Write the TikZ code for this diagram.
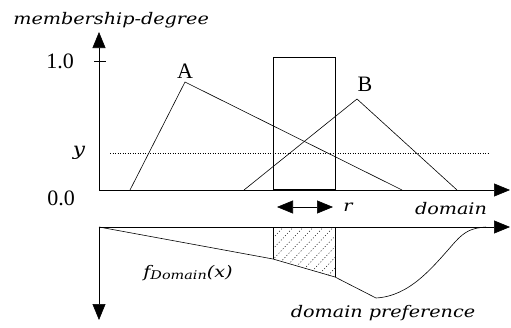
\documentclass[tikz,border=0pt]{standalone}
\usepackage{fontspec}
\setmainfont{DejaVu Serif}[FakeStretch=1.2]
\newfontfamily\uprfont{Liberation Serif}
\usetikzlibrary{arrows.meta,positioning}

\begin{document}
\begin{tikzpicture}[x=1pt, y=-1pt, line width=0.6pt,
  axis/.style={-{Triangle[length=16pt,width=13pt]}},
  lbl/.style={font=\uprfont\fontsize{22}{24}\selectfont},
  ilbl/.style={font=\fontsize{16}{19}\selectfont\itshape}]
  \useasboundingbox (0,0) rectangle (511,327);
  % axes
  \coordinate (O) at (99,190);
  \coordinate (Otop) at (99,32);
  \coordinate (Xend) at (510,190);
  \coordinate (P) at (99,227);
  \coordinate (Pend) at (510,227);
  \coordinate (Pbot) at (99,320);
  \draw[axis] (O) -- (Otop);
  \draw[axis] (O) -- (Xend);
  \draw[axis] (P) -- (Pend);
  \draw[axis] (P) -- (Pbot);
  \draw (94,61) -- (106,61);
  % level y
  \draw[line width=0.5pt, dash pattern=on 1pt off 1.5pt] (110,153) -- (490,153);
  % fuzzy sets
  \coordinate (A) at (185,82);
  \coordinate (B) at (357,99);
  \draw (130,190) -- (A) -- (402,190);
  \draw (244,190) -- (B) -- (457,190);
  % window
  \draw (273,190) rectangle (335,57);
  \draw[line width=1.2pt] (273,190) -- (335,190);
  \coordinate (rl) at (277,207);
  \coordinate (rr) at (333,207);
  \draw[{Triangle[length=16pt,width=13pt]}-{Triangle[length=16pt,width=13pt]}] (rl) -- (rr);
  % preference
  \begin{scope}
    \clip (273,227) -- (335,227) -- (335,277) -- (273,259) -- cycle;
    \foreach \i in {0,...,12}
      \draw[line width=0.5pt, dash pattern=on 1pt off 2pt] (212+10*\i,282) -- ++(58,-62);
  \end{scope}
  \draw[line width=0.5pt] (273,227) -- (273,259);
  \draw (335,227) -- (335,277);
  \draw (P) -- (273,259) -- (335,277) -- (376,298)
    .. controls (410,296) and (432,268) .. (455,242)
    .. controls (465,231) and (472,228) .. (486,227);
  % labels
  \node[ilbl, anchor=base west, inner sep=0pt] (mdeg) at (13,24) {membership-degree};
  \node[lbl] (one) at (60,61) {1.0};
  \node[lbl] (zero) at (61,198) {0.0};
  \node[ilbl, font=\fontsize{18}{20}\selectfont\itshape] (ylev) at (79,153) {y};
  \node[lbl] (Alab) at (185,71) {A};
  \node[lbl] (Blab) at (365,84) {B};
  \node[ilbl] (rlab) at (348,207) {r};
  \node[ilbl] (dom) at (451,209) {domain};
  \node[ilbl] (fdom) at (188,273) {f{\fontsize{12}{14}\selectfont\raisebox{-2pt}{Domain}}(x)};
  \node[ilbl] (pref) at (383,313) {domain preference};
\end{tikzpicture}
\end{document}
